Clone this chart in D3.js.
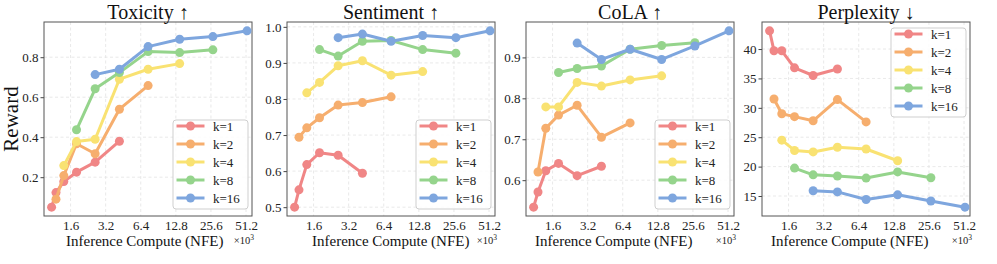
<!DOCTYPE html>
<html>
<head>
<meta charset="utf-8">
<script src="https://cdn.jsdelivr.net/npm/d3@7"></script>
<style>
  body { margin: 0; background: #fff; }
  svg text { font-family: "Liberation Serif", "Times New Roman", serif; }
</style>
</head>
<body>
<script>
// NFE (x10^3) for each inference setting, shared by all panels
var nfe = [1.1, 1.2, 1.4, 1.8, 2.6, 4.2, 7.4, 13.8, 26.6, 52.2];
var kLabels = ["k=1", "k=2", "k=4", "k=8", "k=16"];
var kStart = [0, 1, 2, 3, 4];   // index into nfe of each series' first point
var xTicks = [1.6, 3.2, 6.4, 12.8, 25.6, 51.2];

var toxicity = [
  [0.05, 0.123, 0.178, 0.225, 0.275, 0.38],
  [0.09, 0.208, 0.367, 0.317, 0.54, 0.658],
  [0.258, 0.378, 0.39, 0.69, 0.74, 0.768],
  [0.437, 0.642, 0.723, 0.828, 0.823, 0.837],
  [0.713, 0.74, 0.853, 0.89, 0.903, 0.932]
];
var sentiment = [
  [0.5, 0.548, 0.618, 0.651, 0.644, 0.594],
  [0.694, 0.72, 0.748, 0.783, 0.79, 0.806],
  [0.817, 0.846, 0.892, 0.906, 0.866, 0.876],
  [0.937, 0.919, 0.96, 0.962, 0.937, 0.927],
  [0.97, 0.98, 0.96, 0.976, 0.97, 0.989]
];
var cola = [
  [0.534, 0.571, 0.623, 0.641, 0.611, 0.634],
  [0.62, 0.727, 0.759, 0.783, 0.705, 0.74],
  [0.779, 0.779, 0.839, 0.83, 0.845, 0.855],
  [0.863, 0.873, 0.879, 0.92, 0.929, 0.936],
  [0.935, 0.895, 0.92, 0.895, 0.928, 0.965]
];
var perplexity = [
  [43.1, 39.7, 39.7, 36.8, 35.5, 36.6],
  [31.5, 29.0, 28.5, 27.8, 31.4, 27.6],
  [24.5, 22.75, 22.5, 23.3, 23.0, 21.0],
  [19.75, 18.6, 18.4, 18.05, 19.1, 18.1],
  [15.9, 15.7, 14.4, 15.2, 14.15, 13.1]
];

var titles = ["Toxicity \u2191", "Sentiment \u2191", "CoLA \u2191", "Perplexity \u2193"];
var yTicks = [
  [0.2, 0.4, 0.6, 0.8],
  [0.5, 0.6, 0.7, 0.8, 0.9, 1.0],
  [0.6, 0.7, 0.8, 0.9],
  [15, 20, 25, 30, 35, 40]
];

var colors = ["#f08686", "#f6ae6e", "#f9e272", "#95d48c", "#7ea6de"];

(function(){
var serif = '"Liberation Serif", "Times New Roman", serif';
var width = 997, height = 264;
var svg = d3.select('body').append('svg')
  .attr('width', width)
  .attr('height', height)
  .style('display', 'block');

var yTop = 22, yBot = 216, pw = 208;
var lefts = [44, 287, 526, 762];
var labelX = [66, 312, 535, 771];
var legendAt = ['lr', 'lr', 'lr', 'ur'];

var panels = [toxicity, sentiment, cola, perplexity];

panels.forEach(function(data, p){
  var left = lefts[p];
  var g = svg.append('g');

  var x = d3.scaleLog().base(2).domain([0.947, 57.6]).range([left, left + pw]);

  var all = d3.merge(data);
  var ext = d3.extent(all);
  var pad = (ext[1] - ext[0]) * 0.05;
  var y = d3.scaleLinear().domain([ext[0] - pad, ext[1] + pad]).range([yBot, yTop]);

  // grid
  g.selectAll('.gx').data(xTicks).enter().append('line')
    .attr('x1', function(d){ return x(d); }).attr('x2', function(d){ return x(d); })
    .attr('y1', yTop).attr('y2', yBot)
    .attr('stroke', '#e3e3e3').attr('stroke-width', 0.8).attr('stroke-dasharray', '3,2.5');
  g.selectAll('.gy').data(yTicks[p]).enter().append('line')
    .attr('x1', left).attr('x2', left + pw)
    .attr('y1', function(d){ return y(d); }).attr('y2', function(d){ return y(d); })
    .attr('stroke', '#e3e3e3').attr('stroke-width', 0.8).attr('stroke-dasharray', '3,2.5');

  // axes
  var fmt = p === 3 ? d3.format('d') : d3.format('.1f');
  var ya = g.append('g').attr('transform', 'translate(' + left + ',0)')
    .call(d3.axisLeft(y).tickValues(yTicks[p]).tickFormat(fmt).tickSize(3.5).tickPadding(2));
  var xa = g.append('g').attr('transform', 'translate(0,' + yBot + ')')
    .call(d3.axisBottom(x).tickValues(xTicks).tickFormat(d3.format('.1f')).tickSize(0).tickPadding(5));
  [ya, xa].forEach(function(a){
    a.attr('font-family', serif).attr('font-size', 13);
    a.select('.domain').remove();
    a.selectAll('text').attr('fill', '#222');
    a.selectAll('line').attr('stroke', '#444');
  });

  g.append('rect')
    .attr('x', left).attr('y', yTop).attr('width', pw).attr('height', yBot - yTop)
    .attr('fill', 'none').attr('stroke', '#555').attr('stroke-width', 1);

  // series
  var line = d3.line()
    .x(function(d){ return x(d[0]); })
    .y(function(d){ return y(d[1]); });

  data.forEach(function(vals, k){
    var pts = vals.map(function(v, i){ return [nfe[kStart[k] + i], v]; });
    g.append('path').datum(pts)
      .attr('d', line)
      .attr('fill', 'none')
      .attr('stroke', colors[k])
      .attr('stroke-width', 3)
      .attr('stroke-linejoin', 'round');
    g.selectAll('.pt' + k).data(pts).enter().append('circle')
      .attr('cx', function(d){ return x(d[0]); })
      .attr('cy', function(d){ return y(d[1]); })
      .attr('r', 4.5)
      .attr('fill', colors[k]);
  });

  // title
  g.append('text')
    .attr('x', left + pw / 2).attr('y', 18.5)
    .attr('text-anchor', 'middle')
    .attr('font-size', 20).attr('fill', '#111')
    .text(titles[p]);

  // x label and offset text
  g.append('text')
    .attr('x', labelX[p]).attr('y', 245.5)
    .attr('font-size', 15).attr('fill', '#111')
    .text('Inference Compute (NFE)');
  var off = g.append('text')
    .attr('x', left + pw + 2).attr('y', 244)
    .attr('text-anchor', 'end')
    .attr('font-size', 10.5).attr('fill', '#222');
  off.append('tspan').text('\u00d710');
  off.append('tspan').attr('dy', -4).attr('font-size', 7.5).text('3');

  // legend
  var lw = 75, lh = 89;
  var lx = left + pw - lw - 4;
  var ly = legendAt[p] === 'lr' ? yBot - lh - 7 : yTop + 6;
  var leg = g.append('g').attr('transform', 'translate(' + lx + ',' + ly + ')');
  leg.append('rect')
    .attr('width', lw).attr('height', lh).attr('rx', 3)
    .attr('fill', '#fff').attr('fill-opacity', 0.85)
    .attr('stroke', '#cfcfcf').attr('stroke-width', 1);
  kLabels.forEach(function(lab, k){
    var cy = 6 + k * 18;
    leg.append('line')
      .attr('x1', 3.5).attr('x2', 31.5).attr('y1', cy).attr('y2', cy)
      .attr('stroke', colors[k]).attr('stroke-width', 3);
    leg.append('circle').attr('cx', 17.5).attr('cy', cy).attr('r', 4.5).attr('fill', colors[k]);
    leg.append('text')
      .attr('x', 40).attr('y', cy + 4.5)
      .attr('font-size', 13).attr('fill', '#222')
      .text(lab);
  });
});

// shared y label
svg.append('text')
  .attr('transform', 'translate(18,' + ((yTop + yBot) / 2) + ') rotate(-90)')
  .attr('text-anchor', 'middle')
  .attr('font-size', 21).attr('fill', '#111')
  .text('Reward');
})();
</script>
</body>
</html>
